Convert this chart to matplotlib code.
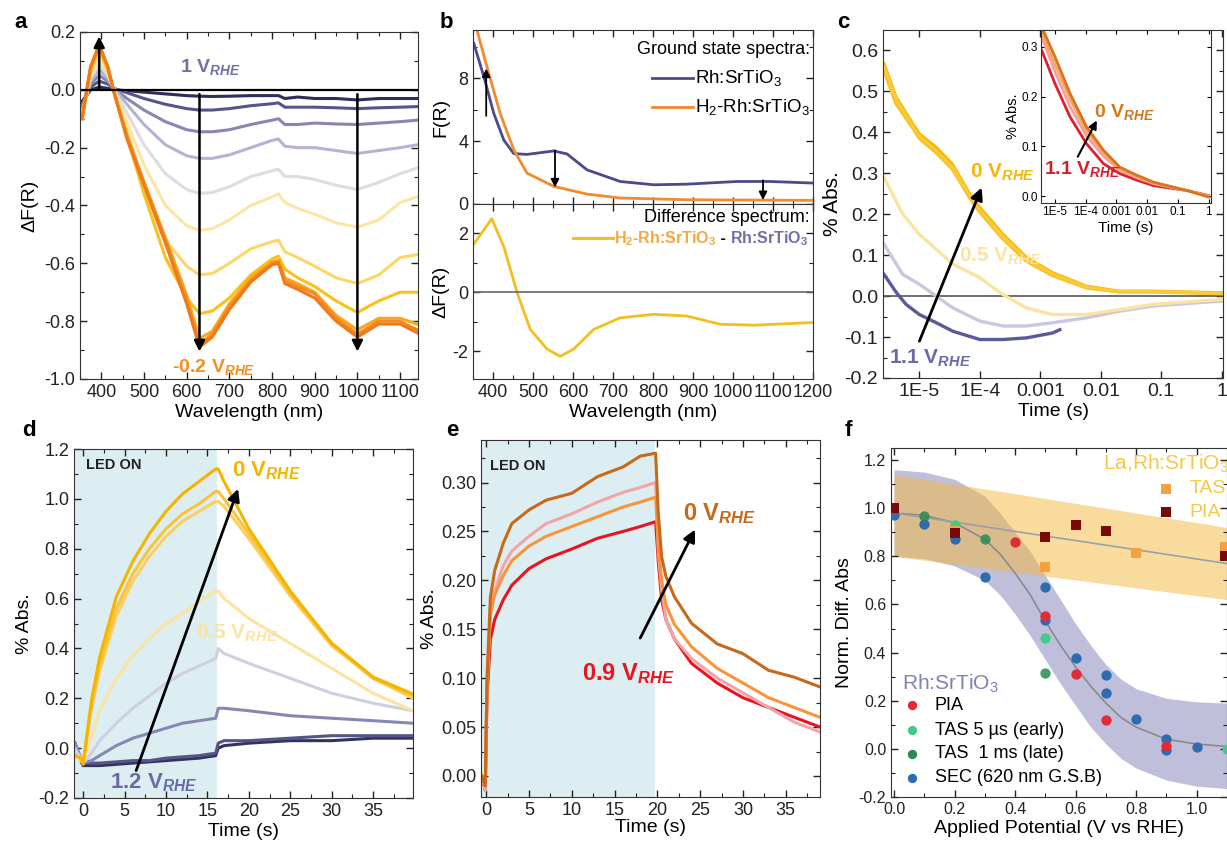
import matplotlib
matplotlib.use('Agg')
import matplotlib.pyplot as plt

plt.rcParams['font.family'] = ['Liberation Sans', 'DejaVu Sans']
plt.rcParams['axes.unicode_minus'] = False
plt.rcParams['mathtext.fontset'] = 'custom'
plt.rcParams['mathtext.rm'] = 'Liberation Sans'
plt.rcParams['mathtext.it'] = 'Liberation Sans:italic:bold'
plt.rcParams['mathtext.bf'] = 'Liberation Sans:bold'
plt.rcParams['axes.edgecolor'] = '#333333'

# ---------------- data: panel a (spectroelectrochemistry, 1 V -> -0.2 V)
a_wl = [355, 375, 395, 415, 430, 460, 500, 550, 600, 630, 660, 700, 750, 800, 815, 830, 860, 900, 950, 1000, 1050, 1100, 1140]
a_curves = [
    [-0.04, 0.0, 0.01, 0.005, 0.0, -0.003, -0.008, -0.014, -0.02, -0.022, -0.023, -0.022, -0.02, -0.02, -0.02, -0.03, -0.025, -0.03, -0.03, -0.035, -0.03, -0.03, -0.03],
    [-0.05, 0.01, 0.03, 0.02, 0.005, -0.01, -0.03, -0.05, -0.065, -0.07, -0.07, -0.065, -0.055, -0.048, -0.045, -0.06, -0.06, -0.06, -0.062, -0.065, -0.062, -0.06, -0.058],
    [-0.06, 0.02, 0.05, 0.03, 0.005, -0.03, -0.07, -0.11, -0.138, -0.145, -0.145, -0.138, -0.12, -0.105, -0.10, -0.12, -0.12, -0.115, -0.118, -0.12, -0.115, -0.11, -0.105],
    [-0.07, 0.03, 0.07, 0.04, 0.005, -0.05, -0.12, -0.19, -0.228, -0.237, -0.237, -0.225, -0.20, -0.175, -0.17, -0.195, -0.20, -0.20, -0.21, -0.22, -0.21, -0.20, -0.19],
    [-0.08, 0.04, 0.09, 0.05, 0.0, -0.08, -0.19, -0.29, -0.345, -0.358, -0.355, -0.335, -0.30, -0.28, -0.275, -0.30, -0.30, -0.31, -0.33, -0.345, -0.32, -0.29, -0.27],
    [-0.09, 0.05, 0.11, 0.06, 0.0, -0.11, -0.26, -0.40, -0.47, -0.486, -0.48, -0.45, -0.40, -0.37, -0.36, -0.39, -0.41, -0.43, -0.46, -0.475, -0.45, -0.39, -0.37],
    [-0.10, 0.06, 0.13, 0.07, -0.01, -0.14, -0.33, -0.52, -0.61, -0.64, -0.635, -0.60, -0.55, -0.525, -0.52, -0.56, -0.58, -0.61, -0.65, -0.67, -0.64, -0.58, -0.57],
    [-0.10, 0.07, 0.14, 0.07, -0.01, -0.16, -0.36, -0.58, -0.72, -0.774, -0.765, -0.72, -0.64, -0.585, -0.575, -0.62, -0.65, -0.68, -0.73, -0.77, -0.73, -0.70, -0.70],
    [-0.10, 0.08, 0.15, 0.08, -0.01, -0.16, -0.32, -0.51, -0.71, -0.86, -0.835, -0.74, -0.65, -0.595, -0.59, -0.65, -0.67, -0.70, -0.78, -0.83, -0.79, -0.79, -0.81],
    [-0.09, 0.08, 0.155, 0.08, -0.01, -0.16, -0.32, -0.52, -0.73, -0.88, -0.845, -0.75, -0.66, -0.60, -0.595, -0.66, -0.68, -0.705, -0.79, -0.845, -0.80, -0.80, -0.83],
    [-0.10, 0.08, 0.155, 0.08, -0.01, -0.17, -0.33, -0.53, -0.74, -0.89, -0.855, -0.76, -0.665, -0.605, -0.60, -0.67, -0.69, -0.72, -0.80, -0.855, -0.81, -0.81, -0.84],
]
a_colors = ['#2e2d5c', '#55558a', '#8787b6', '#b3b3d2', '#dcdce4', '#fde6a4', '#fdd66a',
            '#f9c11c', '#f7a823', '#f58b20', '#f07a18']

# ---------------- panel b (ground state + difference)
b_wl_rh = [352, 377, 402, 427, 452, 485, 552, 585, 635, 718, 802, 885, 1010, 1093, 1200]
b_rh = [10.2, 8.1, 5.75, 4.06, 3.2, 3.15, 3.37, 3.18, 2.17, 1.43, 1.22, 1.26, 1.43, 1.43, 1.33]
b_wl_h2 = [355, 385, 418, 452, 485, 552, 635, 718, 885, 1200]
b_h2 = [11.5, 8.7, 5.75, 3.43, 1.96, 1.12, 0.63, 0.38, 0.27, 0.23]
b_wl_diff = [350, 397, 427, 460, 493, 535, 568, 602, 652, 718, 802, 885, 968, 1052, 1200]
b_diff = [1.6, 2.5, 1.55, 0.0, -1.26, -1.93, -2.18, -1.93, -1.26, -0.87, -0.75, -0.81, -1.09, -1.12, -1.03]

# ---------------- panel c (TAS decays)
c_t0 = [2.6e-6, 4.1e-6, 7.8e-6, 1e-5, 1.9e-5, 3.5e-5, 6.8e-5, 1e-4, 2.4e-4, 5.9e-4, 1.6e-3, 5.8e-3, 2e-2, 7.4e-2, 1.0]
c_0v = [
    [0.567, 0.486, 0.42, 0.396, 0.363, 0.322, 0.249, 0.216, 0.151, 0.094, 0.057, 0.024, 0.012, 0.012, 0.008],
    [0.55, 0.47, 0.41, 0.385, 0.35, 0.31, 0.24, 0.205, 0.14, 0.085, 0.05, 0.02, 0.01, 0.01, 0.006],
    [0.56, 0.48, 0.415, 0.39, 0.355, 0.315, 0.245, 0.21, 0.146, 0.09, 0.054, 0.022, 0.011, 0.011, 0.007],
]
c_0v_colors = ['#f5b700', '#f7c21a', '#f9cb3a']
c_t1 = [2.6e-6, 5.3e-6, 1e-5, 3.6e-5, 1e-4, 2.4e-4, 5.9e-4, 1.6e-3, 5.8e-3, 2e-2, 7.4e-2, 1.0]
c_05v = [0.29, 0.2, 0.151, 0.078, 0.045, 0.004, -0.029, -0.045, -0.045, -0.033, -0.02, -0.008]
c_lav = [0.127, 0.053, 0.029, -0.029, -0.061, -0.073, -0.073, -0.065, -0.053, -0.037, -0.024, -0.012]
c_t2 = [2.6e-6, 4.1e-6, 6e-6, 1e-5, 1.9e-5, 3.6e-5, 1e-4, 2.4e-4, 5.9e-4, 1.6e-3, 2.1e-3]
c_11v = [0.053, 0.01, -0.02, -0.045, -0.065, -0.086, -0.106, -0.106, -0.102, -0.09, -0.082]

# inset (La,Rh:SrTiO3)
ci_t = [3.7e-6, 1e-5, 3.1e-5, 1.07e-4, 3.8e-4, 1.3e-3, 4.6e-3, 1.6e-2, 0.2, 1.0]
ci_curves = [
    [0.293, 0.226, 0.159, 0.105, 0.065, 0.045, 0.032, 0.021, 0.011, 0.001],
    [0.32, 0.25, 0.18, 0.12, 0.08, 0.052, 0.037, 0.025, 0.011, 0.0],
    [0.33, 0.265, 0.195, 0.13, 0.087, 0.055, 0.04, 0.026, 0.011, 0.0],
    [0.34, 0.28, 0.206, 0.139, 0.092, 0.058, 0.042, 0.028, 0.011, -0.002],
]
ci_colors = ['#e0202a', '#f4a0a0', '#f5a865', '#d8741c']

# ---------------- panel d (PIA Rh:SrTiO3)
d_t = [-1.0, -0.3, 0, 1, 2, 4, 6, 8, 10, 12, 14, 16, 16.3, 17, 20, 25, 30, 35, 39.8]
d_curves = [
    [0.02, -0.05, -0.07, -0.07, -0.07, -0.065, -0.06, -0.055, -0.05, -0.045, -0.04, -0.03, 0.0, 0.01, 0.02, 0.03, 0.03, 0.04, 0.04],
    [0.02, -0.04, -0.06, -0.06, -0.06, -0.055, -0.05, -0.05, -0.04, -0.035, -0.03, -0.02, 0.02, 0.03, 0.03, 0.04, 0.05, 0.05, 0.05],
    [0.02, -0.04, -0.06, -0.05, -0.03, 0.01, 0.04, 0.06, 0.08, 0.10, 0.11, 0.12, 0.16, 0.16, 0.15, 0.13, 0.12, 0.11, 0.10],
    [0.0, -0.04, -0.06, -0.02, 0.03, 0.10, 0.16, 0.21, 0.26, 0.30, 0.33, 0.36, 0.40, 0.38, 0.34, 0.28, 0.22, 0.18, 0.15],
    [-0.03, -0.05, -0.06, 0.05, 0.15, 0.28, 0.37, 0.44, 0.50, 0.54, 0.59, 0.63, 0.63, 0.60, 0.52, 0.42, 0.32, 0.22, 0.15],
    [-0.03, -0.04, -0.06, 0.16, 0.31, 0.53, 0.67, 0.77, 0.85, 0.91, 0.95, 0.99, 0.99, 0.97, 0.84, 0.61, 0.41, 0.28, 0.20],
    [-0.03, -0.04, -0.06, 0.17, 0.33, 0.56, 0.70, 0.80, 0.88, 0.94, 0.98, 1.03, 1.03, 1.00, 0.86, 0.62, 0.42, 0.28, 0.21],
    [-0.03, -0.04, -0.065, 0.19, 0.365, 0.607, 0.75, 0.86, 0.95, 1.02, 1.07, 1.12, 1.12, 1.07, 0.88, 0.63, 0.42, 0.285, 0.217],
]
d_colors = ['#34335f', '#55558a', '#8787b6', '#cfcfe4', '#fde3a0', '#fbd060', '#f9c43a', '#f5b400']

# ---------------- panel e (PIA La,Rh:SrTiO3)
e_t = [-0.5, -0.1, 0.1, 0.5, 1, 2, 3, 5, 7, 10, 13, 16, 18, 19.8, 20.1, 20.5, 21, 22, 24, 27, 30, 33, 36, 39]
e_curves = [
    [0.0, -0.015, 0.08, 0.14, 0.16, 0.18, 0.195, 0.212, 0.222, 0.232, 0.243, 0.25, 0.255, 0.26, 0.22, 0.18, 0.16, 0.14, 0.115, 0.095, 0.08, 0.07, 0.06, 0.05],
    [0.0, -0.015, 0.09, 0.17, 0.19, 0.215, 0.23, 0.245, 0.258, 0.268, 0.28, 0.29, 0.295, 0.30, 0.23, 0.19, 0.16, 0.14, 0.12, 0.10, 0.085, 0.07, 0.055, 0.045],
    [0.0, -0.01, 0.09, 0.165, 0.185, 0.205, 0.22, 0.235, 0.245, 0.255, 0.265, 0.275, 0.28, 0.285, 0.24, 0.20, 0.175, 0.155, 0.132, 0.11, 0.095, 0.08, 0.07, 0.06],
    [0.0, -0.01, 0.10, 0.183, 0.21, 0.238, 0.258, 0.272, 0.282, 0.289, 0.306, 0.316, 0.327, 0.33, 0.27, 0.224, 0.204, 0.183, 0.156, 0.135, 0.125, 0.108, 0.101, 0.091],
]
e_colors = ['#e8141e', '#f4a3a8', '#f8943a', '#c8681a']

# ---------------- panel f (normalised signals vs potential)
f_band_x = [0.0, 0.1, 0.2, 0.3, 0.35, 0.4, 0.45, 0.5, 0.55, 0.6, 0.65, 0.7, 0.75, 0.8, 0.9, 1.0, 1.1]
f_rh_hi = [1.16, 1.15, 1.12, 1.05, 0.98, 0.90, 0.82, 0.72, 0.62, 0.52, 0.43, 0.35, 0.29, 0.25, 0.21, 0.195, 0.19]
f_rh_lo = [0.80, 0.79, 0.76, 0.70, 0.64, 0.56, 0.47, 0.37, 0.27, 0.18, 0.09, 0.02, -0.04, -0.08, -0.13, -0.155, -0.165]
f_rh_fit = [0.98, 0.97, 0.94, 0.87, 0.81, 0.73, 0.64, 0.53, 0.43, 0.34, 0.26, 0.19, 0.13, 0.09, 0.04, 0.02, 0.01]
f_la_x = [0.0, 1.1]
f_la_hi = [1.14, 0.92]
f_la_lo = [0.80, 0.62]
f_la_fit = [0.98, 0.77]

pia_x = [0.4, 0.5, 0.6, 0.7, 0.9]
pia_y = [0.86, 0.553, 0.313, 0.118, 0.01]
tas5_x = [0.2, 0.5, 1.1]
tas5_y = [0.93, 0.46, 0.0]
tas1_x = [0.1, 0.3, 0.5]
tas1_y = [0.966, 0.873, 0.314]
sec_x = [0.0, 0.1, 0.2, 0.3, 0.5, 0.5, 0.6, 0.7, 0.7, 0.8, 0.9, 0.9, 1.0]
sec_y = [0.97, 0.935, 0.872, 0.712, 0.672, 0.537, 0.377, 0.307, 0.233, 0.123, 0.042, -0.004, 0.007]
la_tas_x = [0.2, 0.5, 0.8, 1.094]
la_tas_y = [0.907, 0.756, 0.812, 0.84]
la_pia_x = [0.0, 0.2, 0.5, 0.6, 0.7, 1.094]
la_pia_y = [1.0, 0.897, 0.88, 0.932, 0.907, 0.80]

W, H = 1227, 843
fig = plt.figure(figsize=(W / 100, H / 100), dpi=100)


def box(l, t, r, b):
    return [l / W, 1 - b / H, (r - l) / W, (b - t) / H]


def style(ax, fs=13):
    ax.tick_params(which='both', direction='in', top=True, right=True, labelsize=fs, colors='#222222')
    ax.tick_params(which='major', length=5, width=1)
    ax.tick_params(which='minor', length=3, width=0.8)


def arrow(ax, x0, y0, x1, y1, lw=1.8, ms=16):
    ax.annotate('', xy=(x1, y1), xytext=(x0, y0),
                arrowprops=dict(arrowstyle='-|>', color='black', lw=lw, mutation_scale=ms, shrinkA=0, shrinkB=0))


def vlabel(ax, x, y, num, color, fs=15, **kw):
    ax.text(x, y, num + r' V$_{\mathit{RHE}}$', color=color, fontsize=fs, fontweight='bold', **kw)


# ======== a
ax = fig.add_axes(box(80, 32, 418, 379))
for vals, col in zip(a_curves, a_colors):
    ax.plot(a_wl, vals, color=col, lw=2.2)
ax.axhline(0, color='black', lw=1.6)
arrow(ax, 395, 0.0, 395, 0.185)
arrow(ax, 630, -0.015, 630, -0.905)
arrow(ax, 1000, -0.015, 1000, -0.905)
vlabel(ax, 585, 0.06, '1', '#7070a8', fs=14)
vlabel(ax, 565, -0.975, '-0.2', '#f5901e', fs=14)
ax.set_xlim(351, 1142)
ax.set_ylim(-1.0, 0.2)
ax.set_xticks(range(400, 1101, 100))
ax.set_xticks(range(350, 1150, 50), minor=True)
ax.set_yticks([-1.0, -0.8, -0.6, -0.4, -0.2, 0.0, 0.2])
ax.set_yticks([-0.9, -0.7, -0.5, -0.3, -0.1, 0.1], minor=True)
ax.set_yticklabels(['-1.0', '-0.8', '-0.6', '-0.4', '-0.2', '0.0', '0.2'])
ax.set_xlabel('Wavelength (nm)', fontsize=14, labelpad=2)
ax.set_ylabel('ΔF(R)', fontsize=14, labelpad=4)
style(ax)

# ======== b top
bt = fig.add_axes(box(473, 30, 813, 204))
bt.plot(b_wl_rh, b_rh, color='#4a4a8c', lw=2)
bt.plot(b_wl_h2, b_h2, color='#f28a2e', lw=2)
arrow(bt, 383, 5.6, 383, 8.6, lw=1.3, ms=12)
arrow(bt, 555, 3.4, 555, 1.05, lw=1.3, ms=12)
arrow(bt, 1075, 1.5, 1075, 0.25, lw=1.3, ms=12)
bt.text(1192, 9.8, 'Ground state spectra:', ha='right', va='center', fontsize=13)
bt.plot([797, 900], [8.0, 8.0], color='#4a4a8c', lw=2)
bt.text(905, 8.0, 'Rh:SrTiO$_3$', va='center', fontsize=13.5)
bt.plot([797, 900], [6.15, 6.15], color='#f28a2e', lw=2)
bt.text(905, 6.15, 'H$_2$-Rh:SrTiO$_3$', va='center', fontsize=13.5)
bt.set_xlim(350, 1200)
bt.set_ylim(0, 11.05)
bt.set_yticks([0, 4, 8])
bt.set_yticks([2, 6, 10], minor=True)
bt.set_xticks(range(400, 1201, 100))
bt.set_xticks(range(350, 1201, 50), minor=True)
bt.tick_params(labelbottom=False)
bt.set_ylabel('F(R)', fontsize=14, labelpad=6)
style(bt)

# ======== b bottom
bb = fig.add_axes(box(473, 204, 813, 379))
bb.plot(b_wl_diff, b_diff, color='#f2c01e', lw=2)
bb.axhline(0, color='#666666', lw=1.2)
bb.text(1192, 2.55, 'Difference spectrum:', ha='right', va='center', fontsize=13)
bb.plot([600, 700], [1.83, 1.83], color='#f2c01e', lw=2.2)
t1 = bb.text(703, 1.83, 'H$_\\mathbf{2}$-Rh:SrTiO$_\\mathbf{3}$', va='center', fontsize=11.5,
             color='#f5a840', fontweight='bold')
t2 = bb.annotate(' - ', xy=(1, 0.5), xycoords=t1, va='center', fontsize=11.5, fontweight='bold')
bb.annotate('Rh:SrTiO$_\\mathbf{3}$', xy=(1, 0.5), xycoords=t2, va='center', fontsize=11.5,
            color='#7070a8', fontweight='bold')
bb.set_xlim(350, 1200)
bb.set_ylim(-2.95, 3.0)
bb.set_yticks([-2, 0, 2])
bb.set_yticks([-1, 1], minor=True)
bb.set_xticks(range(400, 1201, 100))
bb.set_xticks(range(350, 1201, 50), minor=True)
bb.set_xlabel('Wavelength (nm)', fontsize=14, labelpad=2)
bb.set_ylabel('ΔF(R)', fontsize=14, labelpad=2)
style(bb)

# ======== c
ax = fig.add_axes(box(883, 30, 1223, 378))
ax.set_xscale('log')
ax.axhline(0, color='#555555', lw=1.2)
ax.plot(c_t2, c_11v, color='#5a5a9a', lw=2.4)
ax.plot(c_t1, c_lav, color='#c8c8e0', lw=2.4)
ax.plot(c_t1, c_05v, color='#fbe3a0', lw=2.4)
for vals, col in zip(c_0v, c_0v_colors):
    ax.plot(c_t0, vals, color=col, lw=2.4)
arrow(ax, 1e-5, -0.11, 1.07e-4, 0.265, lw=2, ms=18)
vlabel(ax, 7e-5, 0.29, '0', '#f5b700', fs=15)
vlabel(ax, 4.5e-5, 0.085, '0.5', '#fbe3a0', fs=15)
vlabel(ax, 3.2e-6, -0.165, '1.1', '#6a6aa8', fs=15)
ax.set_xlim(2.5e-6, 1.05)
ax.set_ylim(-0.2, 0.65)
ax.set_xticks([1e-5, 1e-4, 1e-3, 1e-2, 1e-1, 1])
ax.set_xticklabels(['1E-5', '1E-4', '0.001', '0.01', '0.1', '1'])
ax.set_yticks([-0.2, -0.1, 0.0, 0.1, 0.2, 0.3, 0.4, 0.5, 0.6])
ax.set_yticks([-0.15, -0.05, 0.05, 0.15, 0.25, 0.35, 0.45, 0.55], minor=True)
ax.set_xlabel('Time (s)', fontsize=14, labelpad=2)
ax.set_ylabel('% Abs.', fontsize=15, labelpad=2)
style(ax, fs=14)

# inset
ins = fig.add_axes(box(1041, 30, 1211, 203))
ins.set_xscale('log')
for vals, col in zip(ci_curves, ci_colors):
    ins.plot(ci_t, vals, color=col, lw=2)
arrow(ins, 5.5e-5, 0.079, 2.3e-4, 0.152, lw=1.5, ms=12)
vlabel(ins, 1.8e-4, 0.16, '0', '#d4781e', fs=14)
vlabel(ins, 4.3e-6, 0.045, '1.1', '#d81e2a', fs=14)
ins.set_xlim(3.5e-6, 1.2)
ins.set_ylim(-0.014, 0.334)
ins.set_xticks([1e-5, 1e-4, 1e-3, 1e-2, 1e-1, 1])
ins.set_xticklabels(['1E-5', '1E-4', '0.001', '0.01', '0.1', '1'])
ins.set_yticks([0.0, 0.1, 0.2, 0.3])
ins.set_yticklabels(['0.0', '0.1', '0.2', '0.3'])
ins.tick_params(which='both', direction='in', top=True, right=True, labelsize=8.5, pad=2)
ins.tick_params(which='major', length=3)
ins.tick_params(which='minor', length=1.5)
ins.set_xlabel('Time (s)', fontsize=11, labelpad=2)
ins.set_ylabel('% Abs.', fontsize=10.5, labelpad=1)

# ======== d
ax = fig.add_axes(box(74, 449, 413, 798))
ax.axvspan(-1.1, 16.2, color='#dceef2', lw=0)
for vals, col in zip(d_curves, d_colors):
    ax.plot(d_t, vals, color=col, lw=2.2)
arrow(ax, 6.4, -0.09, 18.7, 1.04, lw=2, ms=18)
ax.text(0.3, 1.12, 'LED ON', fontsize=10.5, fontweight='bold', color='#222222')
vlabel(ax, 18.0, 1.09, '0', '#f5b400', fs=16)
vlabel(ax, 13.6, 0.44, '0.5', '#fbe3a0', fs=15)
vlabel(ax, 3.2, -0.16, '1.2', '#6a6aa8', fs=16)
ax.set_xlim(-1.1, 39.8)
ax.set_ylim(-0.2, 1.2)
ax.set_xticks(range(0, 36, 5))
ax.set_xticks([2.5 + 5 * i for i in range(8)], minor=True)
ax.set_yticks([-0.2, 0.0, 0.2, 0.4, 0.6, 0.8, 1.0, 1.2])
ax.set_yticks([-0.1, 0.1, 0.3, 0.5, 0.7, 0.9, 1.1], minor=True)
ax.set_yticklabels(['-0.2', '0.0', '0.2', '0.4', '0.6', '0.8', '1.0', '1.2'])
ax.set_xlabel('Time (s)', fontsize=14, labelpad=2)
ax.set_ylabel('% Abs.', fontsize=14, labelpad=4)
style(ax)

# ======== e
ax = fig.add_axes(box(481, 440, 820, 797))
ax.axvspan(-0.6, 19.7, color='#dceef2', lw=0)
for vals, col in zip(e_curves, e_colors):
    ax.plot(e_t, vals, color=col, lw=2.2)
arrow(ax, 18.0, 0.141, 24.4, 0.252, lw=2, ms=18)
ax.text(0.5, 0.313, 'LED ON', fontsize=10.5, fontweight='bold', color='#222222')
vlabel(ax, 23.0, 0.262, '0', '#c8681a', fs=17)
vlabel(ax, 11.2, 0.098, '0.9', '#e8141e', fs=17)
ax.set_xlim(-0.6, 39.0)
ax.set_ylim(-0.0215, 0.3435)
ax.set_xticks(range(0, 36, 5))
ax.set_xticks([2.5 + 5 * i for i in range(8)], minor=True)
ax.set_yticks([0.0, 0.05, 0.10, 0.15, 0.20, 0.25, 0.30])
ax.set_yticks([0.025, 0.075, 0.125, 0.175, 0.225, 0.275, 0.325], minor=True)
ax.set_yticklabels(['0.00', '0.05', '0.10', '0.15', '0.20', '0.25', '0.30'])
ax.set_xlabel('Time (s)', fontsize=14, labelpad=0)
ax.set_ylabel('% Abs.', fontsize=14, labelpad=2)
style(ax)

# ======== f
ax = fig.add_axes(box(891, 448, 1227, 797))
ax.fill_between(f_band_x, f_rh_lo, f_rh_hi, color='#8c8cc0', alpha=0.55, lw=0)
ax.fill_between(f_la_x, f_la_lo, f_la_hi, color='#f5b83e', alpha=0.5, lw=0)
ax.plot(f_band_x, f_rh_fit, color='#8a8a8a', lw=1.2)
ax.plot(f_la_x, f_la_fit, color='#9aa0a8', lw=1.2)
ax.scatter(sec_x, sec_y, s=55, color='#2d6cae', zorder=3, lw=0)
ax.scatter(tas1_x, tas1_y, s=55, color='#2a8a50', zorder=3, lw=0, alpha=0.85)
ax.scatter(tas5_x, tas5_y, s=55, color='#45c889', zorder=3, lw=0)
ax.scatter(pia_x, pia_y, s=55, color='#e02b3a', zorder=3, lw=0)
ax.scatter(la_tas_x, la_tas_y, s=55, marker='s', color='#f7a040', zorder=3, lw=0)
ax.scatter(la_pia_x, la_pia_y, s=55, marker='s', color='#7a0a0a', zorder=3, lw=0)
# legends
ax.text(1.105, 1.185, 'La,Rh:SrTiO$_3$', ha='right', va='center', fontsize=15, color='#f5c84a')
ax.scatter([0.90], [1.081], s=55, marker='s', color='#f7a040', lw=0, zorder=3)
ax.text(0.975, 1.081, 'TAS', va='center', fontsize=14, color='#f5c84a')
ax.scatter([0.90], [0.984], s=55, marker='s', color='#7a0a0a', lw=0, zorder=3)
ax.text(0.975, 0.984, 'PIA', va='center', fontsize=14, color='#f5c84a')
ax.text(0.025, 0.27, 'Rh:SrTiO$_3$', va='center', fontsize=15, color='#8080b2')
leg_y = [0.181, 0.077, -0.021, -0.119]
leg_c = ['#e02b3a', '#45c889', '#2a8a50', '#2d6cae']
leg_t = ['PIA', 'TAS 5 µs (early)', 'TAS  1 ms (late)', 'SEC (620 nm G.S.B)']
for yy, cc, tt in zip(leg_y, leg_c, leg_t):
    ax.scatter([0.058], [yy], s=45, color=cc, lw=0, zorder=3)
    ax.text(0.135, yy, tt, va='center', fontsize=13)
ax.set_xlim(-0.01, 1.10)
ax.set_ylim(-0.2, 1.25)
ax.set_xticks([0.0, 0.2, 0.4, 0.6, 0.8, 1.0])
ax.set_xticks([0.1, 0.3, 0.5, 0.7, 0.9], minor=True)
ax.set_xticklabels(['0.0', '0.2', '0.4', '0.6', '0.8', '1.0'])
ax.set_yticks([-0.2, 0.0, 0.2, 0.4, 0.6, 0.8, 1.0, 1.2])
ax.set_yticks([-0.1, 0.1, 0.3, 0.5, 0.7, 0.9, 1.1], minor=True)
ax.set_yticklabels(['-0.2', '0.0', '0.2', '0.4', '0.6', '0.8', '1.0', '1.2'])
ax.set_xlabel('Applied Potential (V vs RHE)', fontsize=14, labelpad=2)
ax.set_ylabel('Norm. Diff. Abs', fontsize=14, labelpad=4)
style(ax, fs=11.5)

# panel letters
for lab, x, y in [('a', 14, 22), ('b', 440, 22), ('c', 837, 22), ('d', 22, 430), ('e', 446, 430), ('f', 845, 430)]:
    fig.text(x / W, 1 - y / H, lab, fontsize=16, fontweight='bold', va='center')

fig.savefig('out.png', dpi=100)
